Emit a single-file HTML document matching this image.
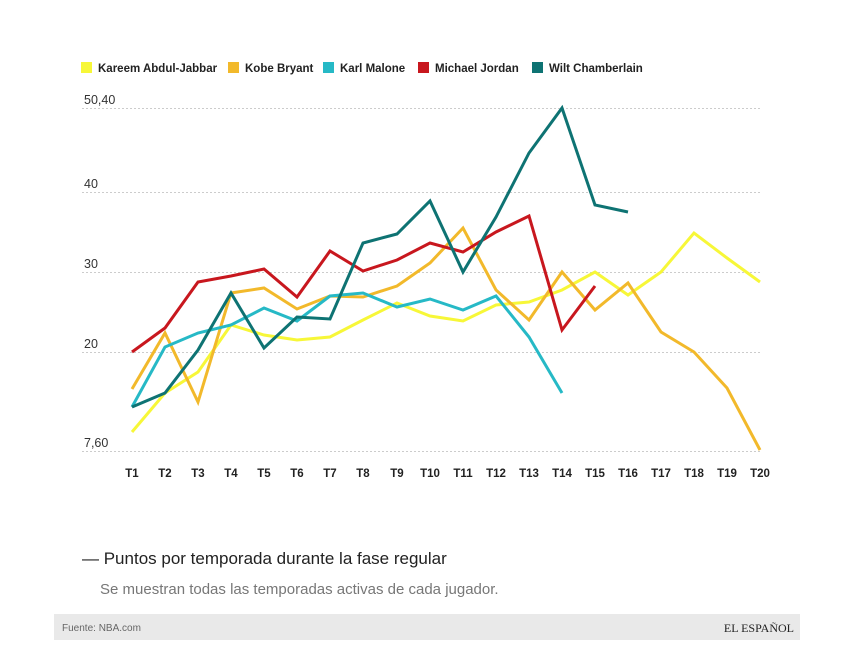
<!DOCTYPE html>
<html><head><meta charset="utf-8"><style>
body{margin:0;background:#fff;width:854px;height:640px;overflow:hidden;font-family:"Liberation Sans",sans-serif}
</style></head><body>
<svg width="854" height="640" xmlns="http://www.w3.org/2000/svg" font-family="Liberation Sans, sans-serif">
<g font-size="11.5" font-weight="bold" fill="#222">
<rect x="81" y="62" width="11" height="11" fill="#f7f738"/><text x="98" y="72">Kareem Abdul-Jabbar</text>
<rect x="228" y="62" width="11" height="11" fill="#f2b92b"/><text x="245" y="72">Kobe Bryant</text>
<rect x="323" y="62" width="11" height="11" fill="#26b9c6"/><text x="340" y="72">Karl Malone</text>
<rect x="418" y="62" width="11" height="11" fill="#c8171e"/><text x="435" y="72">Michael Jordan</text>
<rect x="532" y="62" width="11" height="11" fill="#0e7373"/><text x="549" y="72">Wilt Chamberlain</text>
</g>
<g stroke="#ccc" stroke-dasharray="2,2" stroke-width="1">
<line x1="82" x2="762" y1="108.5" y2="108.5"/><line x1="82" x2="762" y1="192.5" y2="192.5"/>
<line x1="82" x2="762" y1="272.5" y2="272.5"/><line x1="82" x2="762" y1="352.5" y2="352.5"/>
<line x1="82" x2="762" y1="451.5" y2="451.5"/>
</g>
<g font-size="12.5" fill="#333">
<text x="84" y="104">50,40</text><text x="84" y="188">40</text><text x="84" y="268">30</text><text x="84" y="348">20</text><text x="84" y="447">7,60</text>
</g>
<g font-size="11.5" font-weight="bold" fill="#222" text-anchor="middle">
<text x="132" y="477">T1</text><text x="165" y="477">T2</text><text x="198" y="477">T3</text><text x="231" y="477">T4</text><text x="264" y="477">T5</text><text x="297" y="477">T6</text><text x="330" y="477">T7</text><text x="363" y="477">T8</text><text x="397" y="477">T9</text><text x="430" y="477">T10</text><text x="463" y="477">T11</text><text x="496" y="477">T12</text><text x="529" y="477">T13</text><text x="562" y="477">T14</text><text x="595" y="477">T15</text><text x="628" y="477">T16</text><text x="661" y="477">T17</text><text x="694" y="477">T18</text><text x="727" y="477">T19</text><text x="760" y="477">T20</text>
</g>
<g fill="none" stroke-width="3" stroke-linejoin="miter">
<polyline stroke="#f7f738" points="132,432 165,393 198,372 231,325 264,335 297,340 330,337 363,320 397,303 430,316 463,321 496,305 529,302 562,290 595,272 628,295 661,272 694,233 727,258 760,282"/>
<polyline stroke="#f2b92b" points="132,389 165,333 198,402 231,293 264,288 297,309 330,296 363,297 397,286 430,263 463,228 496,290 529,320 562,272 595,310 628,283 661,332 694,352 727,388 760,450"/>
<polyline stroke="#26b9c6" points="132,407 165,347 198,333 231,325 264,308 297,321 330,296 363,293 397,307 430,299 463,310 496,296 529,337 562,393"/>
<polyline stroke="#c8171e" points="132,352 165,328 198,282 231,276 264,269 297,297 330,251 363,271 397,260 430,243 463,252 496,232 529,216 562,330 595,286"/>
<polyline stroke="#0e7373" points="132,407 165,393 198,350 231,293 264,348 297,317 330,319 363,243 397,234 430,201 463,272 496,217 529,153 562,108 595,205 628,212"/>
</g>
<text x="82" y="564" font-size="17" fill="#222">— Puntos por temporada durante la fase regular</text>
<text x="100" y="594" font-size="15" fill="#777">Se muestran todas las temporadas activas de cada jugador.</text>
<rect x="54" y="614" width="746" height="26" fill="#e9e9e9"/>
<text x="62" y="631" font-size="10" fill="#666">Fuente: NBA.com</text>
<text x="794" y="632" font-size="12" fill="#222" text-anchor="end" font-family="Liberation Serif, serif">EL ESPAÑOL</text>
</svg>
</body></html>
